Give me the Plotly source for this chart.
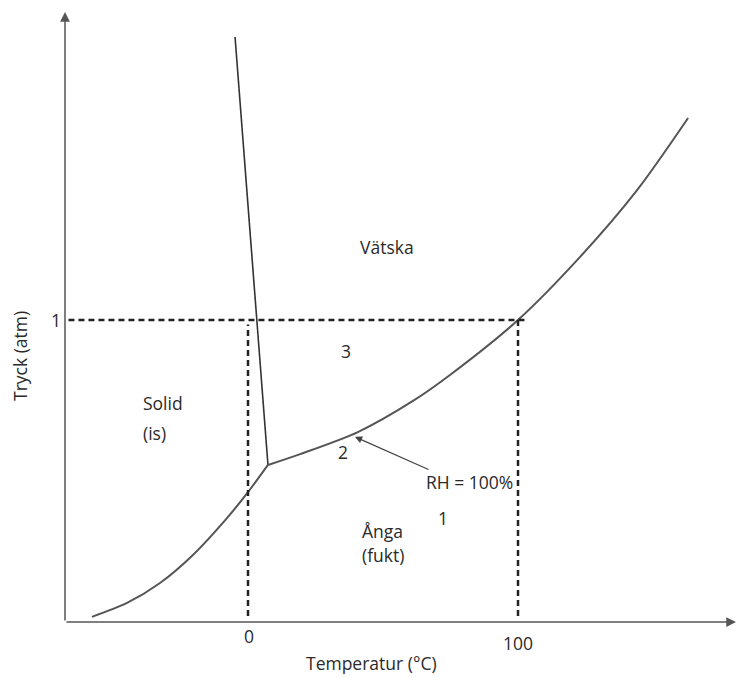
import plotly.graph_objects as go

# Phase boundaries (temperature in °C, pressure in atm; schematic)
melt_T = [-4.8, 7.4]
melt_P = [1.937, 0.520]

sub_T = [-57.8, -44.8, -32.6, -20.4, -7.8, 0.0, 7.4]
sub_P = [0.017, 0.063, 0.129, 0.222, 0.344, 0.430, 0.520]

vap_T = [7.4, 19.3, 40.7, 61.1, 74.8, 100.0, 123.0, 144.1, 163.0]
vap_P = [0.520, 0.556, 0.629, 0.732, 0.818, 1.0, 1.209, 1.430, 1.669]

# Reference (dashed) lines
p1_T = [-66.5, 102.6]
p1_P = [1.0, 1.0]
t0_T = [0.0, 0.0]
t0_P = [0.02, 0.985]
t100_T = [100.0, 100.0]
t100_P = [0.02, 1.0]

x_ticks = [0, 100]
x_tick_labels = ["0", "100"]
y_ticks = [1]
y_tick_labels = ["1"]

XMIN, XMAX = -67.78, 180.74
YMIN, YMAX = 0.0, 2.0265

FONT = "Open Sans"
TXT = "#2a2a2a"
FS = 17.5

fig = go.Figure()

curve_style = dict(color="#555555", width=2)
fig.add_trace(go.Scatter(x=melt_T, y=melt_P, mode="lines", line=dict(color="#333333", width=1.6)))
fig.add_trace(go.Scatter(x=sub_T, y=sub_P, mode="lines", line=dict(shape="spline", smoothing=0.8, **curve_style)))
fig.add_trace(go.Scatter(x=vap_T, y=vap_P, mode="lines", line=dict(shape="spline", smoothing=0.8, **curve_style)))

dash_style = dict(color="#222222", width=2.5, dash="6px,4px")
for xs, ys in [(p1_T, p1_P), (t0_T, t0_P), (t100_T, t100_P)]:
    fig.add_trace(go.Scatter(x=xs, y=ys, mode="lines", line=dash_style))

ann = []
# Axes with arrowheads
ann.append(dict(x=XMIN, y=2.02, ax=XMIN, ay=0.0, xref="x", yref="y", axref="x", ayref="y",
                showarrow=True, arrowhead=2, arrowsize=1.3, arrowwidth=1.5, arrowcolor="#555555",
                standoff=0, text=""))
ann.append(dict(x=XMAX, y=0.0, ax=XMIN, ay=0.0, xref="x", yref="y", axref="x", ayref="y",
                showarrow=True, arrowhead=2, arrowsize=1.3, arrowwidth=1.5, arrowcolor="#555555",
                standoff=0, text=""))

# RH arrow
ann.append(dict(x=39.6, y=0.613, ax=67.4, ay=0.503, xref="x", yref="y", axref="x", ayref="y",
                showarrow=True, arrowhead=2, arrowsize=1.2, arrowwidth=1.2, arrowcolor="#444444",
                standoff=0, text=""))

def label(text, x, y, xanchor="center", xref="x", yref="y", size=FS, **kw):
    ann.append(dict(x=x, y=y, xref=xref, yref=yref, text=text, showarrow=False,
                    xanchor=xanchor, yanchor="middle", align="left",
                    font=dict(family=FONT, size=size, color=TXT), **kw))

label("Vätska", 51.5, 1.242)
label("3", 36.3, 0.897)
label("Solid", -39.6, 0.725, xanchor="left")
label("(is)", -39.6, 0.626, xanchor="left")
label("2", 35.2, 0.563)
label("RH = 100%", 81.9, 0.464)
label("1", 72.2, 0.344)
label("Ånga", 41.5, 0.300, xanchor="left")
label("(fukt)", 41.5, 0.222, xanchor="left")

# Tick labels (placed as in the sketch; outside the plot area -> paper refs)
label(y_tick_labels[0], -0.0134, y_ticks[0], xref="paper")
label(x_tick_labels[0], x_ticks[0] + 0.4, -0.0229, yref="paper")
label(x_tick_labels[1], x_ticks[1], -0.0343, yref="paper")

# Axis titles
label("Temperatur (°C)", 45.9, -0.067, yref="paper")
label("Tryck (atm)", -0.067, 0.881, xref="paper", textangle=-90)

fig.update_layout(
    width=736, height=678,
    margin=dict(l=65, r=0, t=10, b=56),
    paper_bgcolor="white", plot_bgcolor="white",
    showlegend=False,
    annotations=ann,
    font=dict(family=FONT, size=FS, color=TXT),
)
fig.update_xaxes(range=[XMIN, XMAX], showgrid=False, zeroline=False, showline=False,
                 showticklabels=False, ticks="")
fig.update_yaxes(range=[YMIN, YMAX], showgrid=False, zeroline=False, showline=False,
                 showticklabels=False, ticks="")

fig.write_html("out.html", config={"displayModeBar": False})
